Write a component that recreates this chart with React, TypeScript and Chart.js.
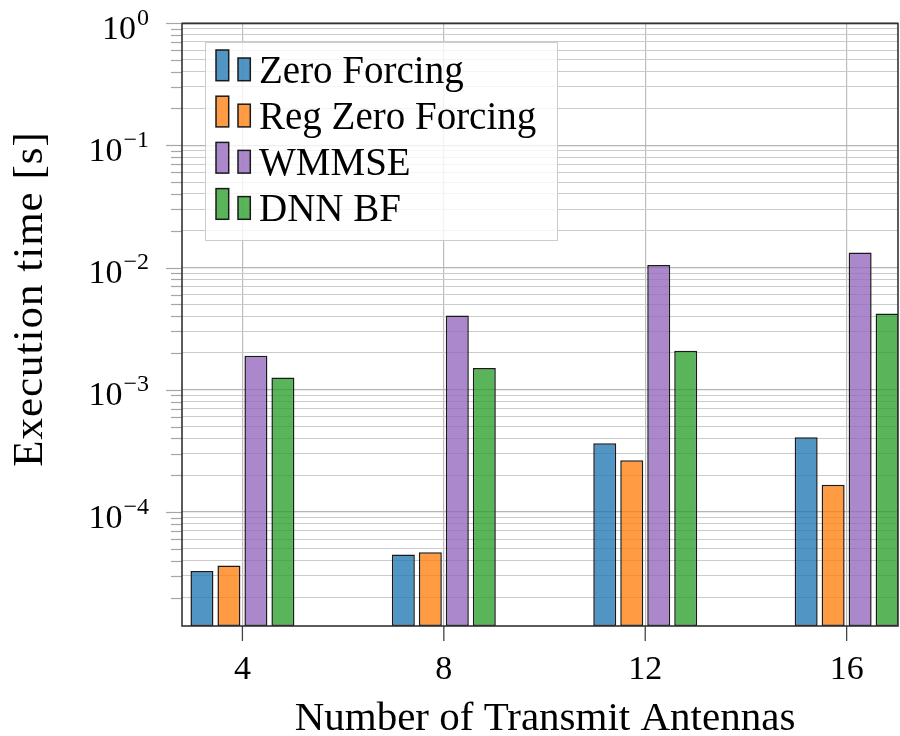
import { useEffect, useRef } from 'react';
import { Chart, registerables } from 'chart.js';

Chart.register(...registerables);

// ---------- data ----------
const antennas = [4, 8, 12, 16];
const zeroForcing = [3.3e-5, 4.5e-5, 3.65e-4, 4.1e-4];
const regZeroForcing = [3.65e-5, 4.7e-5, 2.65e-4, 1.67e-4];
const wmmse = [1.9e-3, 4.05e-3, 1.05e-2, 1.33e-2];
const dnnBf = [1.26e-3, 1.51e-3, 2.09e-3, 4.2e-3];
const seriesNames = ['Zero Forcing', 'Reg Zero Forcing', 'WMMSE', 'DNN BF'];
const yDecades = [0, -1, -2, -3, -4];
const xTitle = 'Number of Transmit Antennas';
const yTitle = 'Execution time [s]';

// ---------- styling ----------
const SERIF = '"Liberation Serif", "Times New Roman", serif';
const fills = [
  'rgba(31,119,180,0.78)',
  'rgba(255,127,14,0.78)',
  'rgba(148,103,189,0.78)',
  'rgba(44,160,44,0.78)',
];
const Y_MIN = 1.17e-5;
const Y_MAX = 1;
const X_MIN = 2.8;
const X_MAX = 17.02;

const isMajor = (v: number) => Math.abs(Math.log10(v) - Math.round(Math.log10(v))) < 1e-9;

const overlay = {
  id: 'overlay',
  afterDatasetsDraw(chart: any) {
    const { ctx, chartArea: a, scales } = chart;
    const xs = scales.x;
    const ys = scales.y;
    ctx.save();

    // y tick marks (outside)
    ctx.strokeStyle = '#a6a6a6';
    ctx.lineWidth = 1.2;
    for (const t of ys.ticks) {
      const py = Math.round(ys.getPixelForValue(t.value)) + 0.5;
      const len = isMajor(t.value) ? 16 : 11;
      ctx.beginPath();
      ctx.moveTo(a.left - len, py);
      ctx.lineTo(a.left, py);
      ctx.stroke();
    }
    // x tick marks
    ctx.strokeStyle = '#444';
    ctx.lineWidth = 1.3;
    for (const t of xs.ticks) {
      const px = xs.getPixelForValue(t.value);
      ctx.beginPath();
      ctx.moveTo(px, a.bottom);
      ctx.lineTo(px, a.bottom + 15);
      ctx.stroke();
    }
    // axis box
    ctx.strokeStyle = '#333';
    ctx.lineWidth = 1.6;
    ctx.strokeRect(a.left, a.top + 0.5, a.right - a.left, a.bottom - a.top - 0.5);

    ctx.fillStyle = '#000';
    // y tick labels with superscript exponents
    const mainFont = `34px ${SERIF}`;
    const supFont = `24px ${SERIF}`;
    ctx.textAlign = 'left';
    ctx.textBaseline = 'alphabetic';
    for (const e of yDecades) {
      const py = ys.getPixelForValue(Math.pow(10, e));
      const exp = e === 0 ? '0' : '\u2212' + String(-e);
      ctx.font = supFont;
      const we = ctx.measureText(exp).width;
      ctx.font = mainFont;
      const wm = ctx.measureText('10').width;
      const x0 = 149 - we - wm - 1;
      ctx.fillText('10', x0, py + 15.5);
      ctx.font = supFont;
      ctx.fillText(exp, x0 + wm + 1, py + 1.5);
    }
    // x tick labels
    ctx.font = `34px ${SERIF}`;
    ctx.textAlign = 'center';
    for (const t of xs.ticks) {
      ctx.fillText(String(t.value), xs.getPixelForValue(t.value), 679);
    }
    // x title
    ctx.font = `41px ${SERIF}`;
    ctx.fillText(xTitle, 545, 730);
    // y title
    ctx.save();
    ctx.translate(42, 299);
    ctx.rotate(-Math.PI / 2);
    ctx.font = `43px ${SERIF}`;
    (ctx as any).letterSpacing = '1px';
    ctx.fillText(yTitle, 0, 0);
    ctx.restore();

    // legend
    const lx = 205, ly = 42, lw = 352, lh = 198;
    ctx.fillStyle = 'rgba(255,255,255,0.8)';
    ctx.fillRect(lx, ly, lw, lh);
    ctx.strokeStyle = '#cccccc';
    ctx.lineWidth = 1;
    ctx.strokeRect(lx + 0.5, ly + 0.5, lw, lh);
    ctx.font = `39px ${SERIF}`;
    ctx.textAlign = 'left';
    seriesNames.forEach((name, i) => {
      const off = 46.2 * i;
      const bottom = 80.7 + off;
      ctx.fillStyle = fills[i];
      ctx.strokeStyle = '#1a1a1a';
      ctx.lineWidth = 1.5;
      ctx.fillRect(216, 50 + off, 12.7, bottom - 50 - off);
      ctx.strokeRect(216, 50 + off, 12.7, bottom - 50 - off);
      ctx.fillRect(238, 58 + off, 12.3, bottom - 58 - off);
      ctx.strokeRect(238, 58 + off, 12.3, bottom - 58 - off);
      ctx.fillStyle = '#000';
      ctx.fillText(name, 259, 82.7 + off);
    });

    ctx.restore();
  },
};

export default function App() {
  const ref = useRef<HTMLCanvasElement>(null);

  useEffect(() => {
    const series = [zeroForcing, regZeroForcing, wmmse, dnnBf];
    const chart = new Chart(ref.current as HTMLCanvasElement, {
      type: 'bar',
      data: {
        datasets: series.map((vals, i) => ({
          label: seriesNames[i],
          data: antennas.map((x, j) => ({ x, y: vals[j] })),
          backgroundColor: fills[i],
          borderColor: '#1a1a1a',
          borderWidth: 1.5,
          borderSkipped: false,
          categoryPercentage: 0.536,
          barPercentage: 0.852,
        })),
      },
      options: {
        responsive: false,
        animation: false,
        devicePixelRatio: 1,
        layout: { padding: { top: 23, right: 2, left: 0, bottom: 0 } },
        plugins: {
          legend: { display: false },
          tooltip: { enabled: false },
          title: { display: false },
        },
        scales: {
          x: {
            type: 'linear',
            min: X_MIN,
            max: X_MAX,
            offset: false,
            grid: { color: '#bdbdbd', lineWidth: 1.2, drawTicks: false, offset: false },
            border: { display: false },
            ticks: { display: false },
            afterBuildTicks: (s: any) => {
              s.ticks = antennas.map((v) => ({ value: v }));
            },
            afterFit: (s: any) => {
              s.height = 110;
            },
          },
          y: {
            type: 'logarithmic',
            min: Y_MIN,
            max: Y_MAX,
            grid: {
              color: (c: any) => (c.tick && isMajor(c.tick.value) ? '#b4b4b4' : '#cbcbcb'),
              lineWidth: (c: any) => (c.tick && isMajor(c.tick.value) ? 1.3 : 1.1),
              drawTicks: false,
            },
            border: { display: false },
            ticks: { display: false },
            afterBuildTicks: (s: any) => {
              const t: any[] = [];
              for (let e = -5; e <= 0; e++) {
                for (let m = 1; m <= 9; m++) {
                  const v = m * Math.pow(10, e);
                  if (v >= Y_MIN && v <= Y_MAX * 1.0000001) t.push({ value: v, major: m === 1 });
                }
              }
              s.ticks = t;
            },
            afterFit: (s: any) => {
              s.width = 182;
            },
          },
        },
      } as any,
      plugins: [overlay],
    });
    return () => chart.destroy();
  }, []);

  return (
    <div style={{ position: 'fixed', left: 0, top: 0, width: 900, height: 736, background: '#fff' }}>
      <canvas ref={ref} width={900} height={736} style={{ display: 'block', width: 900, height: 736 }} />
    </div>
  );
}
